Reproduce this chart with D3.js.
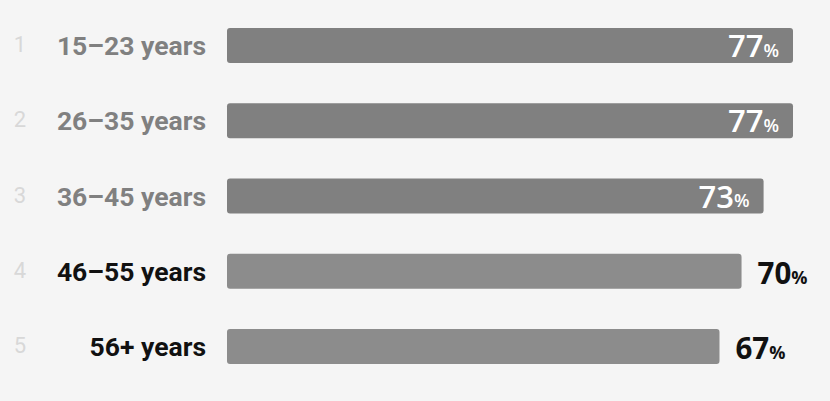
<!DOCTYPE html>
<html>
<head>
<meta charset="utf-8">
<script src="https://cdn.jsdelivr.net/npm/d3@7"></script>
<style>
  html, body { margin: 0; padding: 0; background: #f5f5f5; }
  svg { display: block; }
</style>
</head>
<body>
<script>
var width = 830,
    height = 401;

// data
var ranks = [1, 2, 3, 4, 5];
var groups = ['15\u201323 years', '26\u201335 years', '36\u201345 years', '46\u201355 years', '56+ years'];
var shares = [77, 77, 73, 70, 67];
var highlighted = [false, false, false, true, true];

var rows = groups.map(function(g, i) {
  return {rank: ranks[i], group: g, value: shares[i], hi: highlighted[i]};
});

var svg = d3.select('body').append('svg')
    .attr('width', width)
    .attr('height', height);

svg.append('rect')
    .attr('width', width)
    .attr('height', height)
    .attr('fill', '#f5f5f5');

var x = d3.scaleLinear()
    .domain([0, 77])
    .range([227, 793]);

var y = d3.scaleBand()
    .domain(groups)
    .range([28, 364])
    .paddingInner(0.535)
    .paddingOuter(0);

var row = svg.selectAll('g.row')
    .data(rows)
  .enter().append('g')
    .attr('class', 'row')
    .attr('transform', function(d) { return 'translate(0,' + y(d.group) + ')'; });

var bh = y.bandwidth();

row.append('rect')
    .attr('x', x(0))
    .attr('width', function(d) { return x(d.value) - x(0); })
    .attr('height', bh)
    .attr('rx', 3)
    .attr('fill', function(d) { return d.hi ? '#8c8c8c' : '#808080'; });

// rank numbers
row.append('text')
    .attr('x', 20)
    .attr('y', bh / 2)
    .attr('dy', '0.3em')
    .attr('text-anchor', 'middle')
    .style('font-family', 'Roboto, sans-serif')
    .style('font-size', '22px')
    .style('fill', '#d8d8d8')
    .text(function(d) { return d.rank; });

// group labels
row.append('text')
    .attr('x', 206)
    .attr('y', bh / 2)
    .attr('dy', '0.36em')
    .attr('text-anchor', 'end')
    .style('font-family', 'Roboto, sans-serif')
    .style('font-weight', 'bold')
    .style('font-size', '26.5px')
    .style('fill', function(d) { return d.hi ? '#111' : '#808080'; })
    .text(function(d) { return d.group; });

// value labels
var val = row.append('text')
    .attr('x', function(d) { return d.hi ? x(d.value) + 16 : x(d.value) - 14; })
    .attr('y', function(d) { return bh / 2 + (d.hi ? 12.5 : 11.5); })
    .attr('text-anchor', function(d) { return d.hi ? 'start' : 'end'; })
    .style('font-family', '"Open Sans", sans-serif')
    .style('font-size', '30px')
    .style('font-weight', function(d) { return d.hi ? 'bold' : '600'; })
    .style('fill', function(d) { return d.hi ? '#111' : '#fff'; });

val.append('tspan')
    .style('font-size', function(d) { return d.hi ? '29.5px' : '31px'; })
    .text(function(d) { return d.value; });

val.append('tspan')
    .style('font-size', '18px')
    .text('%');
</script>
</body>
</html>
